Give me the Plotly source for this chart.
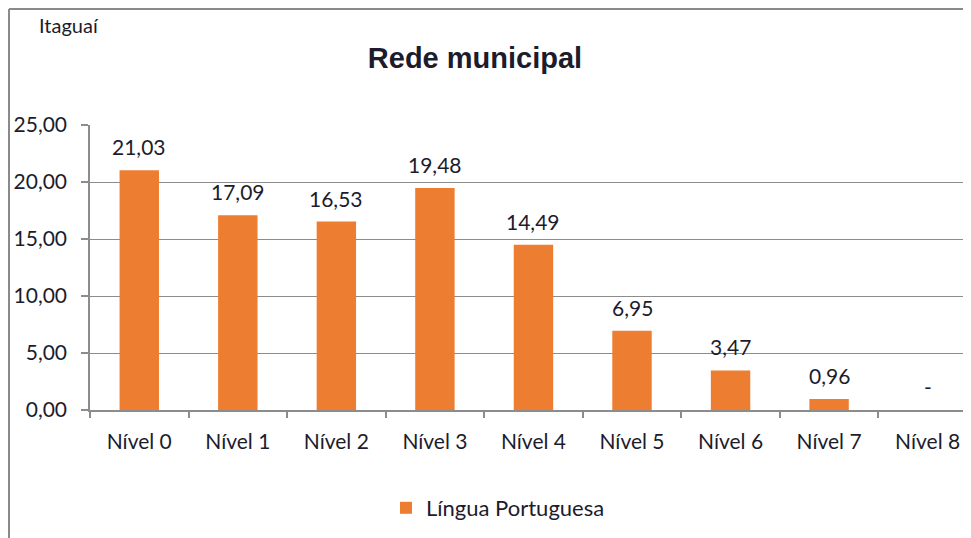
import plotly.graph_objects as go

categories = ["Nível 0", "Nível 1", "Nível 2", "Nível 3", "Nível 4", "Nível 5", "Nível 6", "Nível 7", "Nível 8"]
values = [21.03, 17.09, 16.53, 19.48, 14.49, 6.95, 3.47, 0.96, 0.0]
value_labels = ["21,03", "17,09", "16,53", "19,48", "14,49", "6,95", "3,47", "0,96", "-"]
y_ticks = [0, 5, 10, 15, 20, 25]
y_tick_labels = ["0,00", "5,00", "10,00", "15,00", "20,00", "25,00"]
series_name = "Língua Portuguesa"

TXT = "#1c1c2c"
GRID = "#8c8c8c"
FONT = "Lato, 'Noto Sans', sans-serif"

W, H = 963, 530  # page body has an 8px margin inside the 971x538 window
L, T, B = 82, 117, 128
PW, PH = W - L, H - T - B

fig = go.Figure()
fig.add_trace(go.Bar(
    x=categories, y=values, name=series_name,
    marker=dict(color="#ED7D31", line=dict(width=0)),
    width=0.4, showlegend=True,
))

for c, v, t in zip(categories, values, value_labels):
    fig.add_annotation(x=c, y=v, text=t, showarrow=False, yanchor="bottom",
                       yshift=9, font=dict(family=FONT, size=21, color=TXT))

# Outer chart border (left and top edges visible)
bx = (1 - L) / PW
by = 1 + (T - 1) / PH
fig.add_shape(type="line", xref="paper", yref="paper", x0=bx, x1=bx,
              y0=-0.6, y1=by, line=dict(color="#8a8a8a", width=2))
fig.add_shape(type="line", xref="paper", yref="paper", x0=bx, x1=1.2,
              y0=by, y1=by, line=dict(color="#8a8a8a", width=2))

fig.add_annotation(xref="paper", yref="paper", x=(29 - L) / PW, y=1 + (T - 17) / PH,
                   text="Itaguaí", showarrow=False, xanchor="left", yanchor="middle",
                   font=dict(family=FONT, size=20, color=TXT))

fig.update_layout(
    width=W, height=H,
    margin=dict(l=L, r=0, t=T, b=B),
    paper_bgcolor="white", plot_bgcolor="white",
    title=dict(text="<b>Rede municipal</b>", x=467 / W, xanchor="center",
               y=1 - 50 / H, yanchor="middle",
               font=dict(family="'Liberation Sans', Arial, sans-serif", size=29, color=TXT)),
    showlegend=True,
    legend=dict(orientation="h", x=(490 - L) / PW, xanchor="center",
                y=-(500 - 402) / PH, yanchor="middle",
                font=dict(family=FONT, size=22, color=TXT), itemwidth=30),
    bargap=0.6,
)
fig.update_xaxes(
    range=[-0.5, 8.44], showline=True, linecolor=GRID, linewidth=1.5,
    ticks="outside", tickson="boundaries", ticklen=6, tickcolor=GRID, tickwidth=1.5,
    ticklabelstandoff=12, showgrid=False,
    tickfont=dict(family=FONT, size=21, color=TXT),
)
fig.update_yaxes(
    range=[0, 25], tickvals=y_ticks, ticktext=y_tick_labels,
    showline=True, linecolor=GRID, linewidth=1.5,
    ticks="outside", ticklen=7, tickcolor=GRID, tickwidth=1.5,
    ticklabelstandoff=10, showgrid=True, gridcolor=GRID, gridwidth=1.2,
    zeroline=False,
    tickfont=dict(family=FONT, size=21, color=TXT),
)

fig.write_html("out.html")
